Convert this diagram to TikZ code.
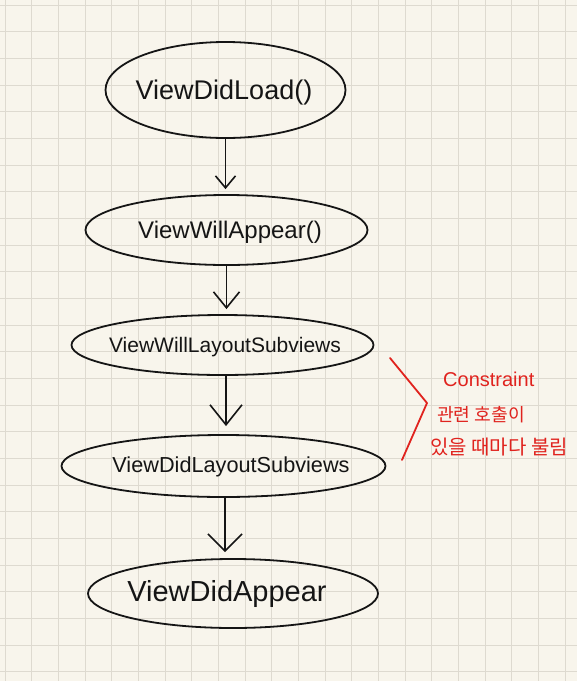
\documentclass[tikz,border=0pt]{standalone}
\usepackage{fontspec}
\setmainfont{Liberation Sans}
\newfontfamily\kofont{Noto Sans CJK KR}
\usetikzlibrary{shapes.geometric,arrows.meta}
\definecolor{paper}{HTML}{F8F5EC}
\definecolor{gridc}{HTML}{DEDAD0}
\definecolor{pen}{HTML}{151515}
\definecolor{redpen}{HTML}{E0231E}
\begin{document}
\begin{tikzpicture}[x=1pt,y=-1pt,
  ell/.style={ellipse, draw=pen, line width=1.8pt, inner sep=0pt},
  lbl/.style={text=pen, inner sep=0pt},
  conn/.style={draw=pen, line width=1.6pt},
  note/.style={text=redpen, inner sep=0pt, anchor=west}]
% paper
\fill[paper] (0,0) rectangle (577,681);
\useasboundingbox (0,0) rectangle (577,681);
\foreach \i in {0,...,21} {
  \draw[gridc, line width=0.9pt] ({5+26.667*\i},0) -- ({5+26.667*\i},681);
}
\foreach \j in {0,...,25} {
  \draw[gridc, line width=0.9pt] (0,{5+26.667*\j}) -- (577,{5+26.667*\j});
}
% ellipses
\node[ell, minimum width=240pt, minimum height=96pt] (e1) at (225.5,90) {};
\node[ell, minimum width=282pt, minimum height=70pt] (e2) at (226.5,230) {};
\node[ell, minimum width=302pt, minimum height=60pt] (e3) at (222.5,345) {};
\node[ell, minimum width=324pt, minimum height=62pt] (e4) at (223.5,466) {};
\node[ell, minimum width=290pt, minimum height=69pt] (e5) at (233,593.5) {};
% labels
\node[lbl, font=\fontsize{27}{30}\selectfont] (t1) at (224,93) {ViewDidLoad()};
\node[lbl, font=\fontsize{24}{27}\selectfont] (t2) at (230,232) {ViewWillAppear()};
\node[lbl, font=\fontsize{21}{24}\selectfont] (t3) at (225,347) {ViewWillLayoutSubviews};
\node[lbl, font=\fontsize{21.7}{24}\selectfont] (t4) at (231,467) {ViewDidLayoutSubviews};
\node[lbl, font=\fontsize{29}{32}\selectfont] (t5) at (227,594) {ViewDidAppear};
% arrows
\draw[conn, -{Straight Barb[length=12pt,width=20pt]}, shorten >=5pt] (e1.south) -- (e1.south |- e2.north);
\draw[conn, -{Straight Barb[length=16pt,width=26pt]}, shorten >=5pt] (e2.south) -- (e2.south |- e3.north);
\draw[conn, -{Straight Barb[length=20pt,width=32pt]}, shorten >=8pt] ([xshift=3.5pt]e3.south) -- ([xshift=3.5pt]e3.south |- e4.north);
\draw[conn, -{Straight Barb[length=17pt,width=34pt]}, shorten >=6pt] ([xshift=1.5pt]e4.south) -- ([xshift=1.5pt]e4.south |- e5.north);
% bracket
\coordinate (b1) at (390,358);
\coordinate (b2) at (427,403);
\coordinate (b3) at (402,460);
\draw[redpen, line width=1.8pt, line join=round, line cap=round] (b1) -- (b2) -- (b3);
% note
\node[note, font=\fontsize{20}{22}\selectfont] (n1) at (443,379) {Constraint};
\node[note, font=\kofont\fontsize{18.2}{20}\selectfont] (n2) at (437,415) {관련 호출이};
\node[note, font=\kofont\fontsize{20}{22}\selectfont] (n3) at (430,447) {있을 때마다 불림};
\end{tikzpicture}
\end{document}
